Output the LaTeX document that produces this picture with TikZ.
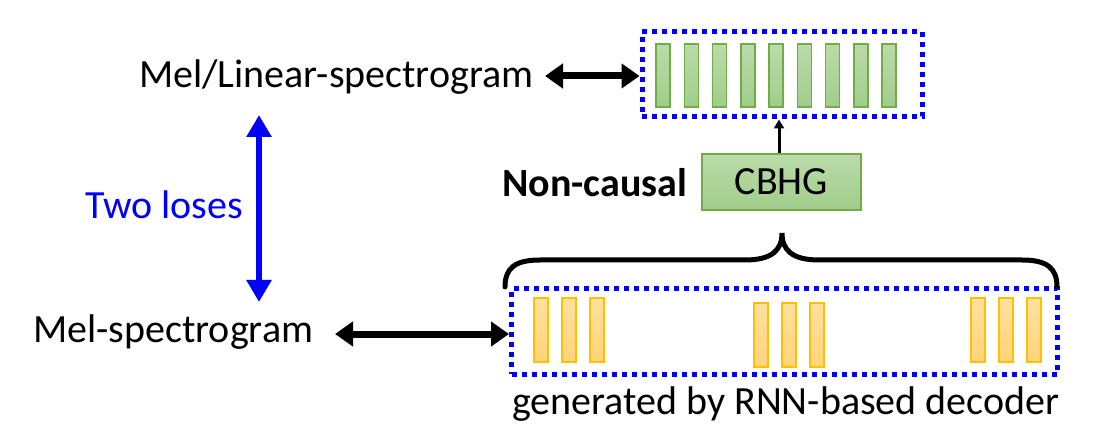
\documentclass[tikz,border=0pt]{standalone}
\usepackage{fontspec}
\setmainfont{Carlito}
\usetikzlibrary{arrows.meta}
\definecolor{dotblue}{RGB}{0,0,255}
\definecolor{gborder}{RGB}{112,173,71}
\definecolor{gtop}{RGB}{188,219,170}
\definecolor{gbot}{RGB}{160,205,138}
\definecolor{oborder}{RGB}{255,192,0}
\definecolor{otop}{RGB}{255,224,160}
\definecolor{obot}{RGB}{255,212,122}
\tikzset{
  lbl/.style={inner sep=0pt, anchor=base west, font=\fontsize{40}{44}\selectfont},
  dotbox/.style={draw=dotblue, line width=5pt, dash pattern=on 5pt off 5pt, inner sep=0pt},
  gbar/.style={draw=gborder, line width=1.5pt, top color=gtop, bottom color=gbot},
  obar/.style={draw=oborder, line width=1.5pt, top color=otop, bottom color=obot},
  cbhgbox/.style={draw=gborder, line width=1.5pt, top color=gtop, bottom color=gbot, inner sep=0pt, minimum width=159pt, minimum height=56pt, font=\fontsize{40}{44}\selectfont},
  bigarrow/.style={line width=7pt, {Triangle[length=18pt,width=24pt]}-{Triangle[length=18pt,width=24pt]}},
  bluearrow/.style={draw=dotblue, line width=6.5pt, {Triangle[length=22pt,width=24pt]}-{Triangle[length=22pt,width=24pt]}},
  smallarrow/.style={line width=3pt, -{Triangle[length=9pt,width=10pt]}},
  bracepath/.style={line width=5pt, line cap=round}
}
\begin{document}
\begin{tikzpicture}[x=1pt,y=-1pt]
\useasboundingbox (0,0) rectangle (1094,443);
% texts
\node[lbl] (mellin) at (139,88) {Mel/Linear-spectrogram};
\node[lbl] (mel) at (33,342) {Mel-spectrogram};
\node[lbl, text=dotblue] (two) at (85,219) {Two loses};
\node[lbl, font=\fontsize{40}{44}\selectfont\bfseries] (noncausal) at (502,197) {Non-causal};
\node[lbl] (gen) at (512,414) {generated by RNN-based decoder};
% top dotted box
\node[dotbox, minimum width=280pt, minimum height=85pt] (topbox) at (782,74.5) {};
\foreach \i in {0,...,8} {
  \path[gbar] (656+28.25*\i,44) rectangle ++(14,63);
}
% bottom dotted box
\node[dotbox, minimum width=546pt, minimum height=85pt] (botbox) at (784.5,331.5) {};
\foreach \x in {534,562,590,971,999,1027} {
  \path[obar] (\x,298) rectangle ++(14,64);
}
\foreach \x in {754,782,810} {
  \path[obar] (\x,303) rectangle ++(14,64);
}
% CBHG
\node[cbhgbox] (cbhg) at (781.5,182) {CBHG};
% arrows
\coordinate (tl) at (545,76);
\draw[bigarrow] (tl) -- (topbox.west |- tl);
\coordinate (bl) at (335,334);
\draw[bigarrow] (bl) -- (botbox.west |- bl);
\coordinate (bt) at (259,115);
\coordinate (bb) at (259,302);
\draw[bluearrow] (bt) -- (bb);
\draw[smallarrow] (cbhg.north -| 779,0) -- (topbox.south -| 779,0);
% brace
\draw[bracepath] (505,287) .. controls (505,268) and (515,260) .. (540,260) -- (745,260)
  .. controls (772,260) and (782,250) .. (782,233)
  .. controls (782,250) and (792,260) .. (819,260) -- (1022,260)
  .. controls (1047,260) and (1057,268) .. (1057,287);
\end{tikzpicture}
\end{document}
